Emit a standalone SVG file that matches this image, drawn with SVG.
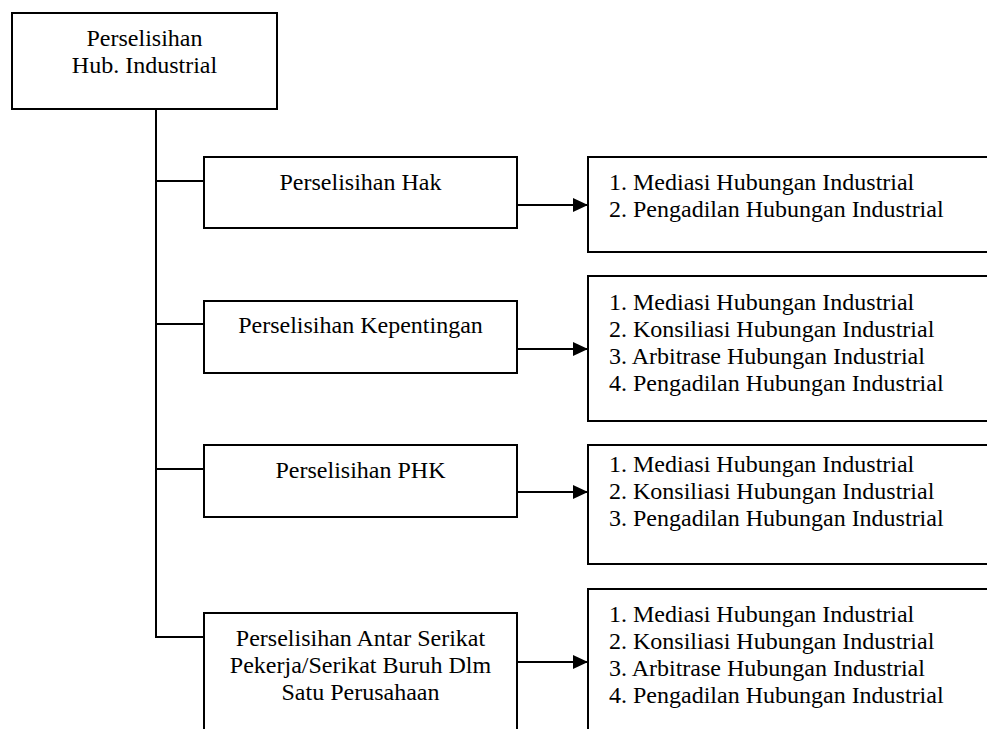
<svg xmlns="http://www.w3.org/2000/svg" width="987" height="729" viewBox="0 0 987 729">
<style>
  .box { fill: #ffffff; stroke: #000000; stroke-width: 2; }
  .ln { fill: none; stroke: #000000; stroke-width: 2; }
  text { font-family: "Liberation Serif", "Times New Roman", serif; font-size: 24px; fill: #000000; }
  .c { text-anchor: middle; }
</style>
<defs>
  <marker id="arr" markerUnits="userSpaceOnUse" markerWidth="16" markerHeight="16" refX="15" refY="7" orient="auto">
    <path d="M0,0 L15,7 L0,14 Z" fill="#000000"/>
  </marker>
</defs>
<rect width="987" height="729" fill="#ffffff"/>

<g id="connectors">
  <path class="ln" d="M156,109 V637 H204"/>
  <line class="ln" x1="156" y1="181" x2="204" y2="181"/>
  <line class="ln" x1="156" y1="324" x2="204" y2="324"/>
  <line class="ln" x1="156" y1="469" x2="204" y2="469"/>
  <line class="ln" x1="517" y1="205" x2="588" y2="205" marker-end="url(#arr)"/>
  <line class="ln" x1="517" y1="349" x2="588" y2="349" marker-end="url(#arr)"/>
  <line class="ln" x1="517" y1="492" x2="588" y2="492" marker-end="url(#arr)"/>
  <line class="ln" x1="517" y1="662" x2="588" y2="662" marker-end="url(#arr)"/>
</g>

<g id="root">
  <rect class="box" x="12" y="13" width="265" height="96"/>
  <text class="c" x="144.5" y="46">Perselisihan</text>
  <text class="c" x="144.5" y="73">Hub. Industrial</text>
</g>

<g id="hak">
  <rect class="box" x="204" y="157" width="313" height="71"/>
  <text class="c" x="360.5" y="190">Perselisihan Hak</text>
</g>
<g id="kepentingan">
  <rect class="box" x="204" y="301" width="313" height="72"/>
  <text class="c" x="360.5" y="333">Perselisihan Kepentingan</text>
</g>
<g id="phk">
  <rect class="box" x="204" y="445" width="313" height="72"/>
  <text class="c" x="360.5" y="478">Perselisihan PHK</text>
</g>
<g id="antar">
  <rect class="box" x="204" y="613" width="313" height="130"/>
  <text class="c" x="360.5" y="646">Perselisihan Antar Serikat</text>
  <text class="c" x="360.5" y="673">Pekerja/Serikat Buruh Dlm</text>
  <text class="c" x="360.5" y="700">Satu Perusahaan</text>
</g>

<g id="hak-list">
  <rect class="box" x="588" y="157" width="420" height="95"/>
  <text x="609" y="190">1. Mediasi Hubungan Industrial</text>
  <text x="609" y="217">2. Pengadilan Hubungan Industrial</text>
</g>
<g id="kepentingan-list">
  <rect class="box" x="588" y="276" width="420" height="145"/>
  <text x="609" y="310">1. Mediasi Hubungan Industrial</text>
  <text x="609" y="337">2. Konsiliasi Hubungan Industrial</text>
  <text x="609" y="364">3. Arbitrase Hubungan Industrial</text>
  <text x="609" y="391">4. Pengadilan Hubungan Industrial</text>
</g>
<g id="phk-list">
  <rect class="box" x="588" y="445" width="420" height="119"/>
  <text x="609" y="472">1. Mediasi Hubungan Industrial</text>
  <text x="609" y="499">2. Konsiliasi Hubungan Industrial</text>
  <text x="609" y="526">3. Pengadilan Hubungan Industrial</text>
</g>
<g id="antar-list">
  <rect class="box" x="588" y="589" width="420" height="160"/>
  <text x="609" y="622">1. Mediasi Hubungan Industrial</text>
  <text x="609" y="649">2. Konsiliasi Hubungan Industrial</text>
  <text x="609" y="676">3. Arbitrase Hubungan Industrial</text>
  <text x="609" y="703">4. Pengadilan Hubungan Industrial</text>
</g>
</svg>
